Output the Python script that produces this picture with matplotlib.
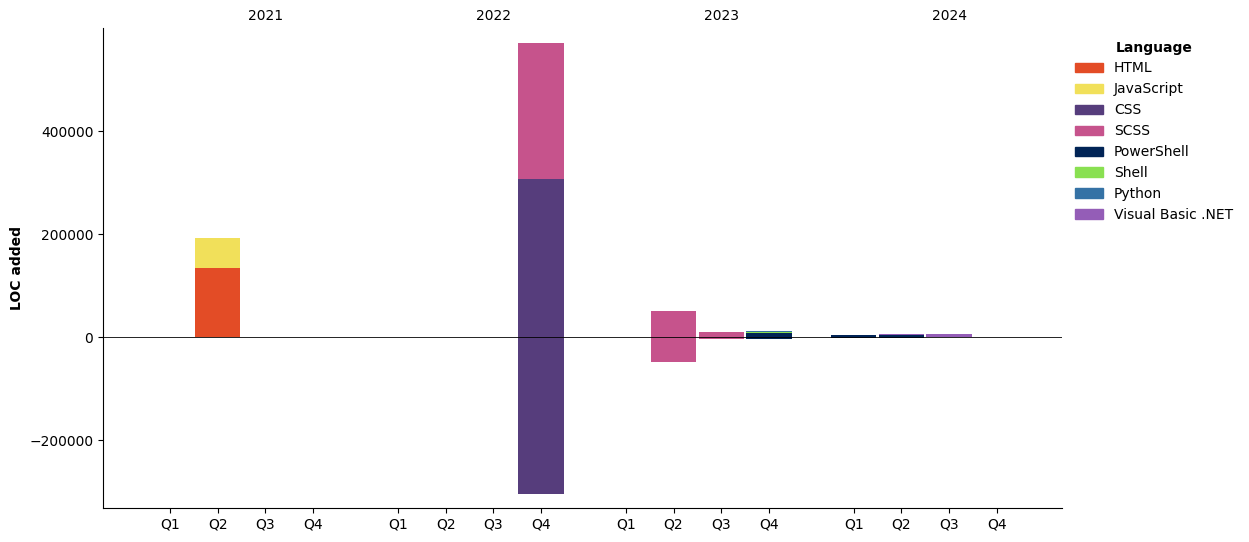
import numpy as np
import matplotlib.pyplot as plt
from matplotlib.patches import Patch

years = ['2021', '2022', '2023', '2024']
quarters = ['Q1', 'Q2', 'Q3', 'Q4']
languages = ['HTML', 'JavaScript', 'CSS', 'SCSS', 'PowerShell', 'Shell', 'Python', 'Visual Basic .NET']
colors = ['#e34c26', '#f1e05a', '#563d7c', '#c6538c', '#012456', '#89e051', '#3572a5', '#945db7']

# LOC per quarter (2021 Q1 ... 2024 Q4), one list per language
added = {
    'HTML':              [0, 134000, 0, 0,  0, 0, 0, 0,       0, 0, 0, 0,         0, 0, 0, 0],
    'JavaScript':        [0, 58000, 0, 0,   0, 0, 0, 0,       0, 0, 0, 0,         0, 0, 0, 0],
    'CSS':               [0, 0, 0, 0,       0, 0, 0, 307000,  0, 0, 0, 0,         0, 0, 0, 0],
    'SCSS':              [0, 0, 0, 0,       0, 0, 0, 264000,  0, 50500, 9500, 0,  0, 0, 0, 0],
    'PowerShell':        [0, 0, 0, 0,       0, 0, 0, 0,       0, 0, 0, 7000,      3500, 3500, 0, 0],
    'Shell':             [0, 0, 0, 0,       0, 0, 0, 0,       0, 0, 0, 3000,      0, 0, 0, 0],
    'Python':            [0, 0, 0, 0,       0, 0, 0, 0,       0, 0, 0, 800,       0, 0, 0, 0],
    'Visual Basic .NET': [0, 0, 0, 0,       0, 0, 0, 0,       0, 0, 0, 0,         0, 2000, 6000, 0],
}
removed = {
    'CSS':        [0, 0, 0, 0,  0, 0, 0, -305000,  0, 0, 0, 0,            0, 0, 0, 0],
    'SCSS':       [0, 0, 0, 0,  0, 0, 0, 0,        0, -48500, -4000, 0,   0, 0, 0, 0],
    'PowerShell': [0, 0, 0, 0,  0, 0, 0, 0,        0, 0, 0, -3500,        -1000, -1000, 0, 0],
}

gap = 4.78
xpos = np.array([y * gap + q for y in range(4) for q in range(4)])

fig = plt.figure(figsize=(12.49, 5.42), dpi=100)
ax = fig.add_axes([0.0825, 0.0627, 0.7675, 0.8856])

pos_bottom = np.zeros(16)
neg_bottom = np.zeros(16)
for lang, col in zip(languages, colors):
    v = np.array(added.get(lang, [0] * 16), dtype=float)
    if v.any():
        ax.bar(xpos, v, width=0.95, bottom=pos_bottom, color=col)
        pos_bottom += v
    r = np.array(removed.get(lang, [0] * 16), dtype=float)
    if r.any():
        ax.bar(xpos, r, width=0.95, bottom=neg_bottom, color=col)
        neg_bottom += r

ax.axhline(0, color='black', linewidth=0.6)
ax.set_xlim(-1.405, 3 * gap + 3 + 1.36)
ax.set_ylim(-332000, 600000)
ax.set_yticks([-200000, 0, 200000, 400000])
ax.set_xticks(xpos)
ax.set_xticklabels(quarters * 4)
ax.set_ylabel('LOC added', fontweight='bold')
ax.spines['top'].set_visible(False)
ax.spines['right'].set_visible(False)

sec = ax.secondary_xaxis('top')
sec.set_xticks([y * gap + 2 for y in range(4)])
sec.set_xticklabels(years)
sec.tick_params(length=0)
sec.spines['top'].set_visible(False)

handles = [Patch(color=c, label=l) for l, c in zip(languages, colors)]
leg = ax.legend(handles=handles, title='Language', loc='upper left',
                bbox_to_anchor=(1.001, 1.0), frameon=False)
leg.get_title().set_fontweight('bold')

plt.savefig('out.png')
